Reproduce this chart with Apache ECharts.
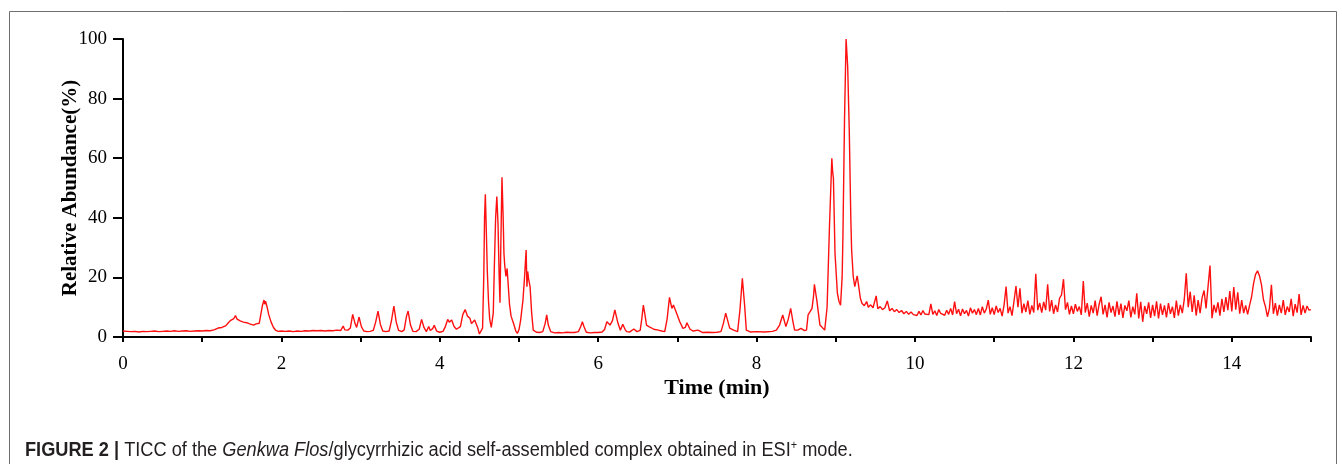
<!DOCTYPE html>
<html>
<head>
<meta charset="utf-8">
<script src="https://cdn.jsdelivr.net/npm/echarts@6/dist/echarts.min.js"></script>
<style>
html,body{margin:0;padding:0;background:#fff;}
#chart{width:1342px;height:464px;}
</style>
</head>
<body>
<div id="chart"></div>
<script>
// ---- Data ----
const xTickLabels = [0, 2, 4, 6, 8, 10, 12, 14];
const yTickLabels = [0, 20, 40, 60, 80, 100];

// 0 - 10 min (irregular sampling, denser at peaks)
const timeEarly = [
  0, 0.05, 0.1, 0.15, 0.2, 0.25, 0.3, 0.35, 0.4, 0.45,
  0.5, 0.55, 0.6, 0.65, 0.7, 0.75, 0.8, 0.85, 0.9, 0.95,
  1.0, 1.05, 1.1, 1.15, 1.2, 1.22, 1.25, 1.27, 1.3, 1.33,
  1.36, 1.38, 1.4, 1.42, 1.44, 1.46, 1.48, 1.5, 1.52, 1.54,
  1.56, 1.58, 1.6, 1.62, 1.65, 1.68, 1.7, 1.72, 1.74, 1.76,
  1.78, 1.79, 1.8, 1.82, 1.84, 1.87, 1.9, 1.93, 1.96, 2.0,
  2.05, 2.1, 2.15, 2.2, 2.25, 2.3, 2.35, 2.4, 2.45, 2.5,
  2.55, 2.6, 2.65, 2.7, 2.75, 2.78, 2.8, 2.84, 2.87, 2.9,
  2.93, 2.95, 2.98, 3.01, 3.04, 3.08, 3.12, 3.16, 3.19, 3.22,
  3.25, 3.28, 3.32, 3.36, 3.39, 3.42, 3.45, 3.48, 3.52, 3.55,
  3.58, 3.6, 3.63, 3.66, 3.7, 3.74, 3.77, 3.8, 3.83, 3.86,
  3.88, 3.91, 3.93, 3.96, 4.0, 4.04, 4.07, 4.1, 4.12, 4.15,
  4.18, 4.21, 4.23, 4.26, 4.29, 4.32, 4.35, 4.38, 4.4, 4.42,
  4.44, 4.46, 4.48, 4.5, 4.52, 4.54, 4.555, 4.565, 4.575, 4.585,
  4.6, 4.615, 4.63, 4.65, 4.66, 4.675, 4.69, 4.705, 4.72, 4.735,
  4.75, 4.76, 4.77, 4.785, 4.8, 4.81, 4.82, 4.835, 4.85, 4.865,
  4.88, 4.9, 4.93, 4.96, 4.98, 5.0, 5.02, 5.05, 5.07, 5.09,
  5.1, 5.11, 5.12, 5.14, 5.16, 5.18, 5.22, 5.26, 5.3, 5.33,
  5.35, 5.37, 5.4, 5.45, 5.5, 5.55, 5.6, 5.65, 5.7, 5.75,
  5.78, 5.8, 5.82, 5.85, 5.9, 5.95, 6.0, 6.05, 6.08, 6.11,
  6.15, 6.18, 6.21, 6.25, 6.28, 6.31, 6.34, 6.36, 6.4, 6.45,
  6.49, 6.53, 6.55, 6.57, 6.59, 6.61, 6.64, 6.67, 6.7, 6.72,
  6.76, 6.8, 6.84, 6.87, 6.9, 6.93, 6.95, 6.99, 7.03, 7.07,
  7.1, 7.12, 7.16, 7.2, 7.26, 7.32, 7.38, 7.44, 7.5, 7.55,
  7.58, 7.61, 7.64, 7.66, 7.71, 7.76, 7.79, 7.82, 7.85, 7.87,
  7.92, 8.0, 8.1, 8.2, 8.25, 8.29, 8.33, 8.37, 8.4, 8.43,
  8.46, 8.48, 8.52, 8.56, 8.6, 8.63, 8.65, 8.7, 8.72, 8.73,
  8.745, 8.76, 8.8, 8.86, 8.89, 8.92, 8.95, 8.96, 8.97, 8.99,
  9.02, 9.04, 9.06, 9.08, 9.09, 9.11, 9.13, 9.15, 9.17, 9.19,
  9.2, 9.22, 9.24, 9.27, 9.29, 9.31, 9.33, 9.36, 9.39, 9.41,
  9.44, 9.47, 9.49, 9.51, 9.53, 9.56, 9.59, 9.62, 9.65, 9.68,
  9.71, 9.74, 9.77, 9.8, 9.83, 9.86, 9.89, 9.92, 9.95, 9.98
];
const abundanceEarly = [
  2.0, 1.9, 1.8, 1.9, 1.7, 1.9, 1.8, 1.9, 2.0, 1.8,
  1.9, 2.0, 1.9, 2.1, 1.9, 2.0, 2.1, 1.9, 2.0, 2.1,
  2.0, 2.2, 2.1, 2.4, 3.0, 3.6, 3.2, 2.6, 3.8, 4.8,
  5.6, 5.2, 6.2, 7.2, 6.0, 6.4, 5.4, 6.0, 5.0, 5.6,
  4.8, 5.2, 4.4, 4.8, 4.0, 4.4, 3.8, 4.6, 7.5, 10.5,
  12.4, 11.0, 12.0, 10.0, 7.5, 5.0, 3.2, 2.2, 1.9, 2.0,
  1.9, 2.0, 1.8, 2.0, 1.9, 2.1, 2.0, 2.2, 2.1, 2.2,
  2.0, 2.2, 2.1, 2.3, 2.2, 3.7, 2.4, 2.3, 3.0, 7.6,
  4.5, 3.2, 6.7, 3.5, 2.0, 1.8, 1.9, 2.2, 5.0, 8.7,
  4.2, 2.0, 1.8, 2.0, 5.5, 10.4, 5.0, 2.2, 1.8, 2.4,
  7.0, 8.7, 4.0, 1.9, 1.8, 2.6, 5.9, 3.2, 1.8, 3.5,
  2.2, 2.8, 3.9, 2.0, 1.6, 1.9, 3.5, 5.9, 5.0, 5.7,
  3.5, 2.6, 2.3, 3.5, 7.5, 9.2, 7.0, 6.3, 4.5, 4.0,
  5.7, 5.2, 3.0, 1.0, 0.5, 3.0, 20, 40, 47.9, 38,
  22, 12, 6, 3.2, 2.9, 8, 25, 40, 47.1, 38,
  20, 11.5, 30, 53.6, 40, 28, 24, 20.3, 23, 17,
  11, 7, 4.6, 2.0, 1.2, 2.5, 5.5, 12.4, 20, 29.2,
  16.9, 22, 19.7, 16.9, 8, 2.3, 1.6, 1.5, 1.8, 4.5,
  7.4, 4.0, 1.8, 1.4, 1.5, 1.4, 1.6, 1.5, 1.5, 1.8,
  3.5, 5.1, 3.5, 1.6, 1.4, 1.5, 1.5, 1.7, 2.5, 5.1,
  4.0, 5.5, 9.1, 4.6, 2.3, 4.3, 2.5, 1.8, 1.7, 2.7,
  1.8, 2.2, 6.0, 10.7, 7.5, 4.0, 3.5, 3.1, 2.6, 3.0,
  2.3, 2.0, 1.8, 6.0, 13.3, 9.6, 10.7, 8.0, 5.1, 2.9,
  3.2, 4.8, 2.6, 2.0, 2.3, 1.5, 1.6, 1.5, 1.6, 1.8,
  4.5, 8.0, 5.0, 3.0, 2.3, 1.8, 9.1, 19.7, 10.2, 2.3,
  1.7, 1.8, 1.7, 1.9, 2.3, 4.0, 7.4, 3.5, 6.0, 9.6,
  5.0, 2.3, 2.3, 2.9, 2.2, 2.3, 7.4, 9.6, 14, 17.7,
  15, 12.4, 4.0, 2.3, 10, 37, 60, 55.5, 53.3, 28,
  14.7, 12, 10.7, 20, 33.7, 72.9, 100, 90.8, 69.5, 39.3,
  29.2, 20.3, 16.9, 20.5, 16.9, 13, 11.3, 10.5, 11.9, 10.0,
  10.8, 9.8, 10.4, 13.8, 9.5, 10.2, 9.2, 9.8, 12.1, 8.8,
  9.6, 8.5, 9.2, 8.2, 8.9, 7.8, 8.6, 7.6, 8.4, 7.5
];

// 10 - 15 min (noisy tail)
const timeLate = [
  10.0, 10.025, 10.05, 10.075, 10.1, 10.125, 10.15, 10.175,
  10.2, 10.225, 10.25, 10.275, 10.3, 10.325, 10.35, 10.375,
  10.4, 10.425, 10.45, 10.475, 10.5, 10.525, 10.55, 10.575,
  10.6, 10.625, 10.65, 10.675, 10.7, 10.725, 10.75, 10.775,
  10.8, 10.825, 10.85, 10.875, 10.9, 10.925, 10.95, 10.975,
  11.0, 11.025, 11.05, 11.075, 11.1, 11.125, 11.15, 11.175,
  11.2, 11.225, 11.25, 11.275, 11.3, 11.325, 11.35, 11.375,
  11.4, 11.425, 11.45, 11.475, 11.5, 11.525, 11.55, 11.575,
  11.6, 11.625, 11.65, 11.675, 11.7, 11.725, 11.75, 11.775,
  11.8, 11.825, 11.85, 11.875, 11.9, 11.925, 11.95, 11.975,
  12.0, 12.025, 12.05, 12.075, 12.1, 12.125, 12.15, 12.175,
  12.2, 12.225, 12.25, 12.275, 12.3, 12.325, 12.35, 12.375,
  12.4, 12.425, 12.45, 12.475, 12.5, 12.525, 12.55, 12.575,
  12.6, 12.625, 12.65, 12.675, 12.7, 12.725, 12.75, 12.775,
  12.8, 12.825, 12.85, 12.875, 12.9, 12.925, 12.95, 12.975,
  13.0, 13.025, 13.05, 13.075, 13.1, 13.125, 13.15, 13.175,
  13.2, 13.225, 13.25, 13.275, 13.3, 13.325, 13.35, 13.375,
  13.4, 13.425, 13.45, 13.475, 13.5, 13.525, 13.55, 13.575,
  13.6, 13.625, 13.65, 13.675, 13.7, 13.725, 13.75, 13.775,
  13.8, 13.825, 13.85, 13.875, 13.9, 13.925, 13.95, 13.975,
  14.0, 14.025, 14.05, 14.075, 14.1, 14.125, 14.15, 14.175,
  14.2, 14.225, 14.25, 14.275, 14.3, 14.325, 14.35, 14.375,
  14.4, 14.425, 14.45, 14.475, 14.5, 14.525, 14.55, 14.575,
  14.6, 14.625, 14.65, 14.675, 14.7, 14.725, 14.75, 14.775,
  14.8, 14.825, 14.85, 14.875, 14.9, 14.925, 14.95, 14.975,
  15.0
];
const abundanceLate = [
  8.0, 7.2, 8.6, 7.4, 8.9, 7.7, 8.3, 7.5,
  11.1, 7.6, 8.8, 7.2, 9.2, 7.9, 8.5, 7.3,
  9.0, 7.6, 9.6, 7.4, 11.9, 7.8, 9.3, 7.1,
  9.4, 7.8, 8.9, 7.0, 9.8, 8.0, 9.2, 7.5,
  9.6, 7.4, 10.2, 8.0, 9.4, 12.4, 7.6, 9.8,
  7.5, 10.4, 8.2, 9.6, 7.0, 10.8, 16.9, 8.0,
  10.2, 7.2, 12.0, 17.1, 10.0, 16.3, 8.0, 11.2,
  8.4, 12.2, 7.6, 10.6, 8.2, 21.2, 9.0, 11.4,
  8.2, 11.8, 9.0, 17.7, 8.6, 12.4, 7.8, 10.8,
  8.4, 13.0, 14.1, 19.4, 9.2, 11.6, 7.6, 10.4,
  7.8, 11.0, 8.6, 10.2, 7.4, 18.8, 8.2, 11.4,
  6.8, 10.6, 8.0, 12.2, 7.2, 11.0, 13.5, 7.6,
  10.8, 6.6, 11.6, 8.2, 10.4, 6.8, 12.0, 7.4,
  11.2, 6.4, 10.6, 8.8, 12.2, 6.6, 10.2, 7.6,
  14.7, 6.2, 11.8, 5.1, 10.4, 7.8, 11.6, 6.4,
  10.8, 7.0, 12.0, 6.2, 11.2, 7.4, 10.6, 6.6,
  11.4, 7.8, 10.2, 6.4, 12.2, 7.2, 10.8, 8.0,
  12.6, 21.4, 10.0, 15.2, 8.4, 14.0, 7.2, 12.4,
  8.0, 13.2, 15.6, 9.6, 16.9, 24.0, 6.3, 10.8,
  8.2, 11.6, 7.2, 12.8, 8.4, 13.4, 9.0, 15.4,
  8.6, 16.8, 9.2, 15.0, 7.8, 12.4, 8.0, 10.6,
  7.6, 10.7, 13.5, 18.0, 21.0, 22.2, 20.5, 17.5,
  12.5, 10.2, 6.8, 9.6, 17.5, 7.8, 11.4, 7.2,
  10.8, 8.0, 12.4, 7.4, 10.2, 8.4, 12.8, 7.0,
  11.0, 8.2, 14.4, 7.4, 10.6, 8.0, 10.4, 9.0,
  9.2
];

const seriesData = [];
timeEarly.forEach((t, i) => seriesData.push([t, abundanceEarly[i]]));
timeLate.forEach((t, i) => seriesData.push([t, abundanceLate[i]]));

const captionText = '{b|FIGURE 2 |} TICC of the {i|Genkwa Flos}/glycyrrhizic acid self-assembled complex obtained in ESI{sup|+} mode.';

const serif = "'Liberation Serif', 'Times New Roman', serif";
const capFont = "'Liberation Sans', Arial, sans-serif";
const capColor = '#231f20';

const chart = echarts.init(document.getElementById('chart'), null, {renderer: 'canvas'});
chart.setOption({
  animation: false,
  backgroundColor: '#ffffff',
  grid: {left: 123, right: 31, top: 39, bottom: 127, containLabel: false},
  graphic: [{
    type: 'rect', silent: true,
    shape: {x: 9.5, y: 11.5, width: 1327, height: 470},
    style: {fill: 'none', stroke: '#6e6e6e', lineWidth: 1}
  }, {
    type: 'text', silent: true,
    x: 25, y: 450, scaleX: 0.91, scaleY: 1,
    style: {
      text: captionText,
      fontFamily: capFont, fontSize: 20, fill: capColor,
      verticalAlign: 'middle', align: 'left',
      rich: {
        b: {fontFamily: capFont, fontSize: 20, fontWeight: 'bold', fill: capColor},
        i: {fontFamily: capFont, fontSize: 20, fontStyle: 'italic', fill: capColor},
        sup: {fontFamily: capFont, fontSize: 12, fill: capColor, padding: [0, 0, 9, 0]}
      }
    }
  }],
  xAxis: {
    type: 'value', min: 0, max: 15, interval: 1,
    name: 'Time (min)', nameLocation: 'middle', nameGap: 40, nameMoveOverlap: false,
    nameTextStyle: {fontFamily: serif, fontSize: 22, fontWeight: 'bold', color: '#000'},
    axisLine: {show: true, onZero: false, lineStyle: {color: '#000', width: 2}},
    axisTick: {show: true, length: 5, lineStyle: {color: '#000', width: 2}},
    axisLabel: {
      fontFamily: serif, fontSize: 19, color: '#000', margin: 18,
      formatter: v => (xTickLabels.indexOf(v) >= 0 ? String(v) : '')
    },
    splitLine: {show: false}
  },
  yAxis: {
    type: 'value', min: 0, max: 100, interval: 20,
    name: 'Relative Abundance(%)', nameLocation: 'middle', nameGap: 42, nameRotate: 90,
    nameMoveOverlap: false,
    nameTextStyle: {fontFamily: serif, fontSize: 21, fontWeight: 'bold', color: '#000'},
    axisLine: {show: true, lineStyle: {color: '#000', width: 2}},
    axisTick: {show: true, length: 10, lineStyle: {color: '#000', width: 2}},
    axisLabel: {
      fontFamily: serif, fontSize: 19, color: '#000', margin: 16,
      formatter: v => (yTickLabels.indexOf(v) >= 0 ? String(v) : '')
    },
    splitLine: {show: false}
  },
  series: [{
    type: 'line', data: seriesData, showSymbol: false, smooth: false,
    lineStyle: {color: '#ff1010', width: 1.4},
    emphasis: {disabled: true}
  }]
});
</script>
</body>
</html>
